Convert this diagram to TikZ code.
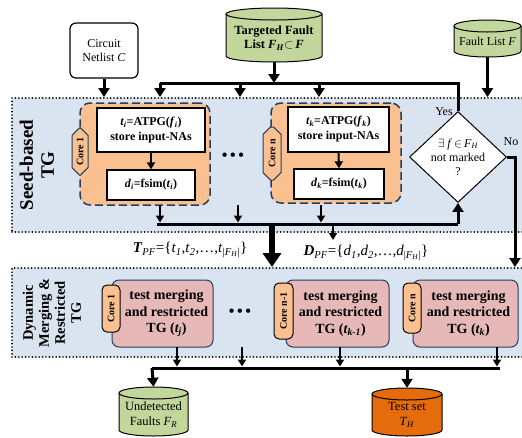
\documentclass[tikz,border=0pt]{standalone}
\usepackage{fontspec}
\setmainfont{Liberation Serif}
\usetikzlibrary{arrows.meta,shapes.geometric,shapes.misc}
\definecolor{regionfill}{HTML}{DAE3F0}
\definecolor{orangefill}{HTML}{FAC090}
\definecolor{pinkfill}{HTML}{E6B9B8}
\definecolor{greenfill}{HTML}{C3D69B}
\definecolor{darkorange}{HTML}{E46C0A}
\definecolor{dblue}{HTML}{243F60}
\newcommand\itsub[2]{\textit{#1}\textsubscript{\textit{#2}}}
\newcommand\mycyl[8]{% name, cx, top, bottom, width, fill, font, text
  \draw[line width=1pt, fill=#6] ({#2-#5/2},{-#3-6}) -- ({#2-#5/2},{-#4+6})
    arc[start angle=180,end angle=360,x radius={#5/2},y radius=6]
    -- ({#2+#5/2},{-#3-6})
    arc[start angle=0,end angle=180,x radius={#5/2},y radius=6] -- cycle;
  \draw[line width=1pt] ({#2-#5/2},{-#3-6}) arc[start angle=180,end angle=360,x radius={#5/2},y radius=6];
  \node[inner sep=0, minimum width=#5, minimum height={#4-#3}] (#1) at (#2,{-(#3+#4)/2}) {};
  \node[align=center, inner sep=0, font=#7] at (#2,{-(#3+#4)/2-3}) {#8};
}
\begin{document}
\begin{tikzpicture}[x=1pt,y=1pt,
  region/.style={draw=black, fill=regionfill, line width=1.9pt, dash pattern=on 0pt off 3.4pt, line cap=round, inner sep=0},
  regionlabel/.style={rotate=90, align=center, font=\bfseries},
  corebox/.style={draw=dblue, fill=orangefill, line width=1.5pt, dash pattern=on 8pt off 4pt, rounded corners=10pt, inner sep=0},
  whitebox/.style={draw=black, fill=white, line width=1.3pt, inner sep=0, align=center, font=\fontsize{12}{15}\selectfont\bfseries},
  tagA/.style={chamfered rectangle, chamfered rectangle xsep=4pt, chamfered rectangle ysep=4pt, draw=dblue, fill=orangefill, line width=1pt, rotate=90, inner sep=0, font=\fontsize{10}{12}\selectfont\bfseries},
  tagB/.style={rounded corners=5pt, draw=black, fill=orangefill, line width=1pt, rotate=90, inner sep=0, font=\fontsize{10}{12}\selectfont\bfseries},
  pinkbox/.style={draw=dblue, fill=pinkfill, line width=1pt, rounded corners=7pt, align=center, inner sep=0, font=\fontsize{14}{16.5}\selectfont\bfseries},
  arr/.style={-{Triangle[length=7pt,width=8pt]}, line width=2pt},
  bigarr/.style={-{Triangle[length=9pt,width=11pt]}, line width=3pt},
  hugearr/.style={-{Triangle[length=14pt,width=18pt]}, line width=6pt},
  bus/.style={line width=3pt},
  dots/.style={font=\fontsize{16}{16}\selectfont\bfseries}
]
\useasboundingbox (0,0) rectangle (522,-437);

% top inputs
\node[draw=black, fill=white, line width=1.2pt, rounded corners=6pt, minimum width=68, minimum height=55, align=center, inner sep=0, font=\fontsize{12}{14}\selectfont] (cn) at (104,-50.5) {Circuit\\Netlist \textit{C}};
\mycyl{tfl}{274}{8}{62}{96}{greenfill}{\fontsize{12.5}{14}\selectfont\bfseries}{Targeted Fault\\List \itsub{F}{H}$\subset$\,\textit{F}}
\mycyl{fl}{487.5}{20}{57}{67}{greenfill}{\fontsize{12}{14}\selectfont}{Fault List \textit{F}}

% regions
\node[region, minimum width=511, minimum height=134] (seed) at (267.5,-165) {};
\node[region, minimum width=511, minimum height=89] (dyn) at (267.5,-312.5) {};
\node[regionlabel, font=\fontsize{19}{21}\selectfont\bfseries] (seedlabel) at (37,-165) {Seed-based\\TG};
\node[regionlabel, font=\fontsize{14.5}{16}\selectfont\bfseries] (dynlabel) at (52,-313) {Dynamic\\Merging \&\\Restricted\\TG};

% seed cores
\node[corebox, minimum width=130, minimum height=102] (c1) at (145,-154) {};
\node[whitebox, minimum width=108, minimum height=44] (a1) at (151,-130) {\itsub{t}{i}=ATPG(\itsub{f}{i})\\store input-NAs};
\node[whitebox, minimum width=88, minimum height=30] (b1) at (151,-185) {\itsub{d}{i}=fsim(\itsub{t}{i})};
\node[tagA, minimum width=47, minimum height=16] (g1) at (80,-151.5) {Core 1};
\node[dots] (d1) at (233,-157) {\textbullet\,\textbullet\,\textbullet};

\node[corebox, minimum width=130, minimum height=100] (cn2) at (336,-153) {};
\node[whitebox, minimum width=101, minimum height=45] (an) at (338.5,-129.5) {\itsub{t}{k}=ATPG(\itsub{f}{k})\\store input-NAs};
\node[whitebox, minimum width=90, minimum height=30] (bn) at (339,-184) {\itsub{d}{k}=fsim(\itsub{t}{k})};
\node[tagA, minimum width=53, minimum height=18] (gn) at (272,-153.5) {Core n};

% decision
\node[diamond, draw=black, fill=white, line width=1pt, minimum width=97, minimum height=71, inner sep=0, align=center, font=\fontsize{12}{14}\selectfont] (dia) at (458,-157) {$\exists$ \textit{f}\,$\in$\,\itsub{F}{H}\\not marked\\?};
\node[font=\fontsize{12}{14}\selectfont] (yes) at (444,-112) {Yes};
\node[font=\fontsize{12}{14}\selectfont] (no) at (511,-142) {No};

% top bus
\coordinate (tb) at (160,-83);
\coordinate (tb2) at (240,-83);
\coordinate (tb3) at (319,-83);
\draw[bus] (dia.north) -- (dia.north |- tb) -- (tb);
\draw[bigarr] (tfl.south) -- (tfl.south |- tb);
\draw[bigarr] (tb) -- (tb |- seed.north);
\draw[bigarr] (tb2) -- (tb2 |- seed.north);
\draw[bigarr] (tb3) -- (tb3 |- seed.north);
\draw[bigarr] (cn.south) -- (cn.south |- seed.north);
\draw[bigarr] (fl.south) -- (fl.south |- seed.north);

% inside cores
\draw[arr] (a1.south) -- (b1.north);
\draw[arr] (an.south) -- (bn.north);

% bottom bus of seed region
\coordinate (sb) at (157,-224);
\coordinate (s1) at (160,-205);
\coordinate (s2) at (238,-205);
\coordinate (s3) at (321,-205);
\draw[bus] (sb) -- (sb -| dia.south);
\draw[bigarr] (sb -| dia.south) -- (dia.south);
\draw[arr, shorten >=1.5pt] (s1) -- (s1 |- sb);
\draw[arr, shorten >=1.5pt] (s2) -- (s2 |- sb);
\draw[arr, shorten >=1.5pt] (s3) -- (s3 |- sb);
\coordinate (bigtop) at (272,-224);
\draw[hugearr] (bigtop) -- (bigtop |- dyn.north);
\coordinate (smalltop) at (333,-224);
\coordinate (smallend) at (333,-240);
\draw[arr] (smalltop) -- (smallend);
\coordinate (nocorner) at (515,-157);
\draw[bigarr] (dia.east) -- (nocorner) -- (nocorner |- dyn.north);

% sets between regions
\node[font=\fontsize{15}{17}\selectfont] (tpf) at (190,-250) {\textbf{\textit{T}}\textsubscript{\textit{PF}}=\{\itsub{t}{1},\itsub{t}{2},\ldots,\textit{t}\textsubscript{|\itsub{F}{H}|}\}};
\node[font=\fontsize{15}{17}\selectfont] (dpf) at (366,-253) {\textbf{\textit{D}}\textsubscript{\textit{PF}}=\{\itsub{d}{1},\itsub{d}{2},\ldots,\textit{d}\textsubscript{|\itsub{F}{H}|}\}};

% dynamic cores
\node[pinkbox, minimum width=101, minimum height=67] (p1) at (162.5,-313.5) {\hspace*{8pt}test merging\\\hspace*{8pt}and restricted\\\hspace*{8pt}TG (\textit{t\textsubscript{j}})};
\node[tagB, minimum width=47, minimum height=18] (q1) at (111,-308.5) {Core 1};
\node[dots] (d2) at (240,-313) {\textbullet\,\textbullet\,\textbullet};
\node[pinkbox, minimum width=103, minimum height=67] (p2) at (337.5,-313.5) {\hspace*{6pt}test merging\\\hspace*{6pt}and restricted\\\hspace*{6pt}TG (\textit{t\textsubscript{k-1}})};
\node[tagB, minimum width=56, minimum height=19] (q2) at (283.5,-311) {Core n-1};
\node[pinkbox, minimum width=105, minimum height=67] (p3) at (465.5,-313.5) {\hspace*{6pt}test merging\\\hspace*{6pt}and restricted\\\hspace*{6pt}TG (\textit{t\textsubscript{k}})};
\node[tagB, minimum width=50, minimum height=18] (q3) at (412,-308) {Core n};

% bottom bus
\coordinate (bb) at (152,-368);
\coordinate (bbR) at (500,-368);
\coordinate (e1) at (177,-347);
\coordinate (e2) at (242,-347);
\coordinate (e3) at (340,-347);
\coordinate (e4) at (497,-347);
\draw[bus] (bb) -- (bbR);
\draw[arr, shorten >=1.5pt] (e1) -- (e1 |- bb);
\draw[arr, shorten >=1.5pt] (e2) -- (e2 |- bb);
\draw[arr, shorten >=1.5pt] (e3) -- (e3 |- bb);
\draw[arr, shorten >=1.5pt] (e4) -- (e4 |- bb);

% outputs
\mycyl{uf}{153.5}{387}{436}{69}{greenfill}{\fontsize{12.5}{15}\selectfont}{Undetected\\Faults \itsub{F}{R}}
\mycyl{ts}{407}{388}{436}{70}{darkorange}{\fontsize{12.5}{15}\selectfont}{Test set\\\itsub{T}{H}}
\draw[bigarr] (bb) -- (uf.north);
\coordinate (bt) at (407,-368);
\draw[bigarr] (bt) -- (ts.north);
\end{tikzpicture}
\end{document}
